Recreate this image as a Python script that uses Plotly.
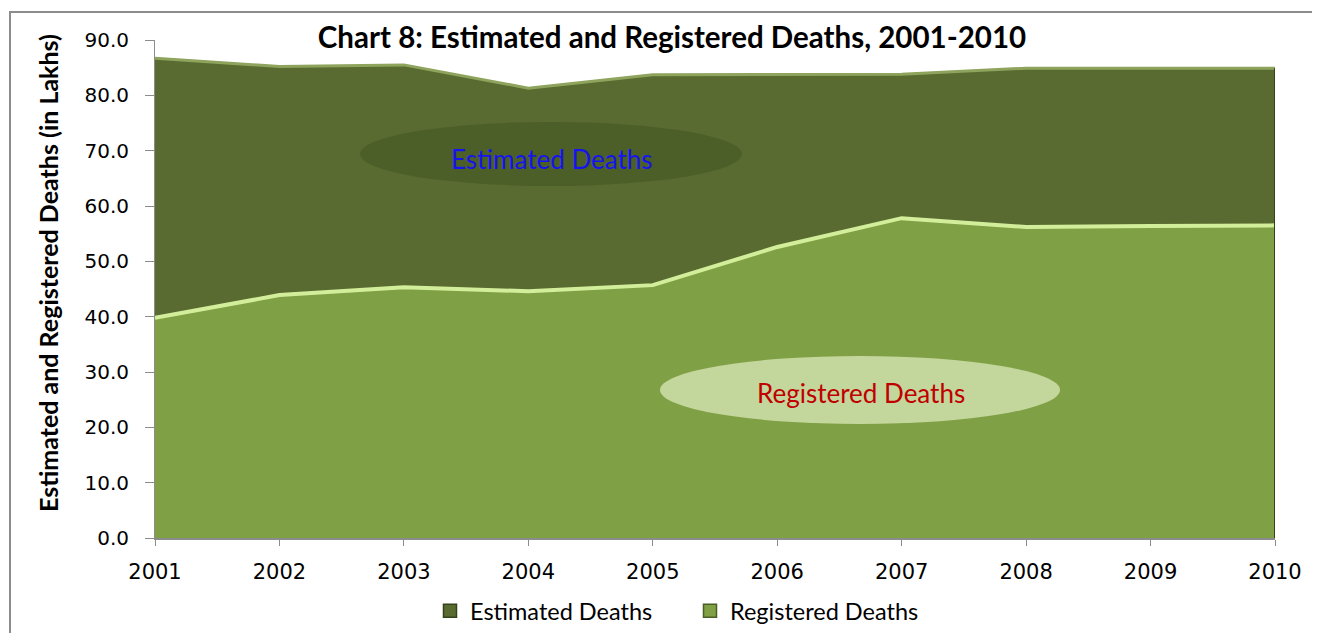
import plotly.graph_objects as go

years = [2001, 2002, 2003, 2004, 2005, 2006, 2007, 2008, 2009, 2010]
estimated = [86.7, 85.2, 85.5, 81.3, 83.7, 83.8, 83.8, 84.9, 84.9, 84.9]
registered = [39.8, 43.9, 45.3, 44.6, 45.7, 52.6, 57.8, 56.2, 56.4, 56.5]
y_ticks = [0, 10, 20, 30, 40, 50, 60, 70, 80, 90]

EST_FILL = "#596b30"
REG_FILL = "#80a045"

fig = go.Figure()
fig.add_trace(go.Scatter(
    x=years, y=estimated, name="Estimated Deaths", mode="lines",
    fill="tozeroy", fillcolor=EST_FILL, showlegend=False,
    line=dict(color="#8ea35c", width=3),
))
fig.add_trace(go.Scatter(
    x=years, y=registered, name="Registered Deaths", mode="lines",
    fill="tozeroy", fillcolor=REG_FILL, showlegend=False,
    line=dict(color="#d2ee9a", width=4),
))
# legend-only entries with square keys
fig.add_trace(go.Scatter(
    x=[None], y=[None], name="Estimated Deaths", mode="markers",
    marker=dict(symbol="square", size=13, color=EST_FILL, line=dict(color="#34421a", width=1.5)),
))
fig.add_trace(go.Scatter(
    x=[None], y=[None], name="Registered Deaths", mode="markers",
    marker=dict(symbol="square", size=13, color=REG_FILL, line=dict(color="#4a5e26", width=1.5)),
))

OFF = 8  # page body margin
W, H = 1320 - OFF, 633 - OFF
L = 155 - OFF
R = W - (1275 - OFF)
T = 40 - OFF
B = H - (538 - OFF)
pw, ph = 1120, 498

def px(x):
    return (x - 155) / pw

def py(y):
    return (538 - y) / ph

shapes = [
    # outer frame (top and left edges visible)
    dict(type="rect", xref="paper", yref="paper",
         x0=px(10), x1=px(1340), y0=py(660), y1=py(12),
         line=dict(color="#8c8c8c", width=2), fillcolor="rgba(0,0,0,0)", layer="below"),
    # right edge shading of the area block
    dict(type="line", xref="x", yref="y", x0=years[-1], x1=years[-1], y0=0, y1=estimated[-1],
         line=dict(color="#34421a", width=2), layer="above"),
    dict(type="circle", xref="paper", yref="paper",
         x0=px(360), x1=px(742), y0=py(186), y1=py(122),
         fillcolor="#4d5f28", line=dict(width=0), layer="above"),
    dict(type="circle", xref="paper", yref="paper",
         x0=px(660), x1=px(1060), y0=py(424), y1=py(356),
         fillcolor="#c3d69b", line=dict(width=0), layer="above"),
]

annotations = [
    dict(text="Estimated Deaths", xref="paper", yref="paper",
         x=px(552), y=py(159), xanchor="center", yanchor="middle", showarrow=False,
         font=dict(family="Lato", size=26, color="#1414f0")),
    dict(text="Registered Deaths", xref="paper", yref="paper",
         x=px(861), y=py(393), xanchor="center", yanchor="middle", showarrow=False,
         font=dict(family="Lato", size=26, color="#c00000")),
    dict(text="<b>Estimated and Registered Deaths (in Lakhs)</b>", xref="paper", yref="paper",
         x=px(48), y=py(273), xanchor="center", yanchor="middle", showarrow=False, textangle=-90,
         font=dict(family="Lato", size=25, color="#000000")),
]

fig.update_layout(
    width=W, height=H,
    margin=dict(l=L, r=R, t=T, b=B, autoexpand=False),
    paper_bgcolor="white", plot_bgcolor="white",
    title=dict(text="<b>Chart 8: Estimated and Registered Deaths, 2001-2010</b>",
               x=(672 - OFF) / W, xanchor="center", y=1 - (38 - OFF) / H, yanchor="middle",
               font=dict(family="Lato", size=29.5, color="#000000")),
    xaxis=dict(range=[2001, 2010], tickmode="array", tickvals=years,
               ticktext=[str(y) for y in years],
               showgrid=False, zeroline=False, showline=True, linecolor="#8c8c8c", linewidth=2,
               ticks="outside", ticklen=6, tickcolor="#8c8c8c", ticklabelstandoff=8,
               tickfont=dict(family="DejaVu Sans", size=21, color="#000000")),
    yaxis=dict(range=[0, 90], tickmode="array", tickvals=y_ticks,
               ticktext=[f"{v:.1f}" for v in y_ticks],
               showgrid=False, zeroline=False, showline=True, linecolor="#8c8c8c",
               ticks="outside", ticklen=9, tickcolor="#8c8c8c", ticklabelstandoff=12,
               tickfont=dict(family="DejaVu Sans", size=20, color="#000000")),
    legend=dict(orientation="h", xref="container", yref="container",
                x=(690 - OFF) / W, y=1 - (611 - OFF) / H, xanchor="center", yanchor="middle",
                font=dict(family="Lato", size=23.5, color="#000000"),
                bgcolor="rgba(0,0,0,0)", traceorder="normal", itemwidth=30,
                entrywidth=215, entrywidthmode="pixels"),
    shapes=shapes,
    annotations=annotations,
    showlegend=True,
)

fig.write_html("out.html")
